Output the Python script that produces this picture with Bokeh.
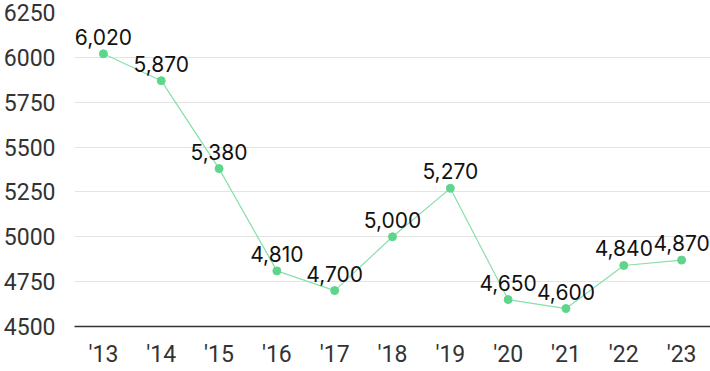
from bokeh.plotting import figure
from bokeh.models import ColumnDataSource, FixedTicker, Range1d
from bokeh.core.properties import value
from bokeh.embed import file_html
from bokeh.resources import INLINE

years = ["'13", "'14", "'15", "'16", "'17", "'18", "'19", "'20", "'21", "'22", "'23"]
values = [6020, 5870, 5380, 4810, 4700, 5000, 5270, 4650, 4600, 4840, 4870]
labels = [f"{v:,}" for v in values]
y_ticks = [4500, 4750, 5000, 5250, 5500, 5750, 6000, 6250]

src = ColumnDataSource(dict(x=years, y=values, label=labels))

p = figure(x_range=years, y_range=Range1d(4500, 6250),
           frame_width=636, frame_height=314,
           output_backend="svg", toolbar_location=None,
           min_border_left=66, min_border_right=0, min_border_top=12, min_border_bottom=37)
p.outline_line_color = None
p.background_fill_color = "white"

p.line("x", "y", source=src, line_color="#86e0a8", line_width=1.2)
p.scatter("x", "y", source=src, size=8, fill_color="#5dd68c", line_color="#5dd68c")
p.text("x", "y", text="label", source=src, text_align="center", text_baseline="bottom",
       y_offset=-9, text_font=value("Inter"), text_font_size="21px", text_color="#111111")

p.yaxis.ticker = FixedTicker(ticks=y_ticks)
p.yaxis.axis_line_color = None
p.yaxis.major_tick_line_color = None
p.yaxis.minor_tick_line_color = None
p.yaxis.major_label_text_font = "Roboto"
p.yaxis.major_label_text_font_size = "23px"
p.yaxis.major_label_text_color = "#333333"
p.yaxis.major_label_standoff = 13

p.xaxis.axis_line_color = "#333333"
p.xaxis.axis_line_width = 1.5
p.xaxis.major_tick_line_color = None
p.xaxis.minor_tick_line_color = None
p.xaxis.major_label_text_font = "Roboto"
p.xaxis.major_label_text_font_size = "23px"
p.xaxis.major_label_text_color = "#333333"
p.xaxis.major_label_standoff = 8

p.xgrid.grid_line_color = None
p.ygrid.grid_line_color = "#e3e3e3"
p.ygrid.grid_line_width = 1

open("out.html", "w").write(file_html(p, INLINE))
